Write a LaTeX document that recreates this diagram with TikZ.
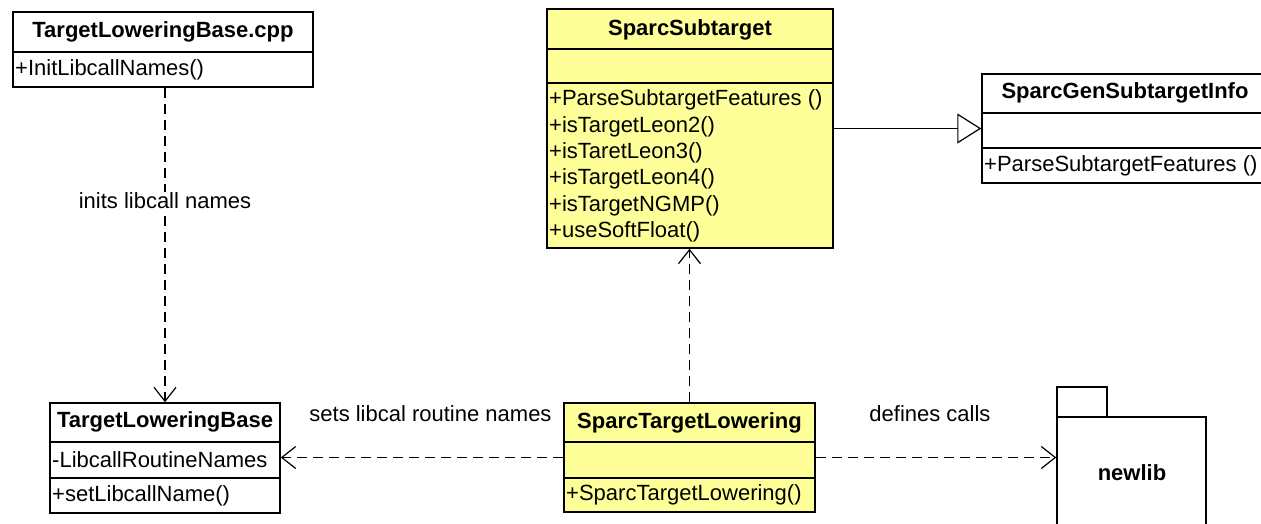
\documentclass[tikz,border=0pt]{standalone}
\usepackage{fontspec}
\setmainfont{Liberation Sans}
\usetikzlibrary{arrows.meta,positioning}
\definecolor{umlyellow}{RGB}{255,255,153}

\begin{document}
\begin{tikzpicture}[
  x=1pt,y=-1pt,
  every node/.style={font=\fontsize{22}{26.4}\selectfont},
  cbox/.style 2 args={draw,line width=1.5pt,minimum width=#1,minimum height=#2,
                      inner sep=0pt,fill=white},
  ybox/.style 2 args={cbox={#1}{#2},fill=umlyellow},
  ctitle/.style={font=\fontsize{22}{26.4}\selectfont\bfseries,inner sep=0pt},
  cmember/.style={anchor=west,inner sep=0pt},
  sepline/.style={line width=1.5pt},
  dep/.style={line width=1.2pt,dash pattern=on 10pt off 6pt,
              -{Straight Barb[length=14pt,width=22pt,line width=1.2pt]}},
  inh/.style={line width=1.2pt,
              -{Triangle[open,length=24pt,width=30pt,line width=1.2pt]}},
  elabel/.style={inner sep=1pt},
]
\useasboundingbox (0,0) rectangle (1261,524);

%% ── TargetLoweringBase.cpp ──────────────────────────────────────────────────
\node[cbox={300pt}{75pt}] (cpp) at (163,49.5) {};
\draw[sepline] (cpp.west |- 0,52) -- (cpp.east |- 0,52);
\node[ctitle] (cppT) at (163,32) {TargetLoweringBase.cpp};
\node[cmember] (cppM) at (15,70) {+InitLibcallNames()};

%% ── TargetLoweringBase ──────────────────────────────────────────────────────
\node[cbox={230pt}{110pt}] (tlb) at (165,458) {};
\draw[sepline] (tlb.west |- 0,442) -- (tlb.east |- 0,442);
\draw[sepline] (tlb.west |- 0,478) -- (tlb.east |- 0,478);
\node[ctitle] (tlbT) at (165,422) {TargetLoweringBase};
\node[cmember] (tlbA) at (52,460) {-LibcallRoutineNames};
\node[cmember] (tlbM) at (52,496) {+setLibcallName()};

%% ── SparcSubtarget ──────────────────────────────────────────────────────────
\node[ybox={286pt}{239pt}] (sub) at (690,128.5) {};
\draw[sepline] (sub.west |- 0,49) -- (sub.east |- 0,49);
\draw[sepline] (sub.west |- 0,83) -- (sub.east |- 0,83);
\node[ctitle] (subT) at (690,30) {SparcSubtarget};
\node[cmember] (subM1) at (549,100) {+ParseSubtargetFeatures ()};
\node[cmember] (subM2) at (549,126.4) {+isTargetLeon2()};
\node[cmember] (subM3) at (549,152.8) {+isTaretLeon3()};
\node[cmember] (subM4) at (549,179.2) {+isTargetLeon4()};
\node[cmember] (subM5) at (549,205.6) {+isTargetNGMP()};
\node[cmember] (subM6) at (549,232) {+useSoftFloat()};

%% ── SparcGenSubtargetInfo ───────────────────────────────────────────────────
\node[cbox={282pt}{109pt}] (gen) at (1123,128.5) {};
\draw[sepline] (gen.west |- 0,113) -- (gen.east |- 0,113);
\draw[sepline] (gen.west |- 0,148) -- (gen.east |- 0,148);
\node[ctitle] (genT) at (1125,93) {SparcGenSubtargetInfo};
\node[cmember] (genM) at (984,166) {+ParseSubtargetFeatures ()};

%% ── SparcTargetLowering ─────────────────────────────────────────────────────
\node[ybox={251pt}{109pt}] (sptl) at (689.5,457.5) {};
\draw[sepline] (sptl.west |- 0,442) -- (sptl.east |- 0,442);
\draw[sepline] (sptl.west |- 0,478) -- (sptl.east |- 0,478);
\node[ctitle] (sptlT) at (689.5,423) {SparcTargetLowering};
\node[cmember] (sptlM) at (566,495) {+SparcTargetLowering()};

%% ── newlib package ──────────────────────────────────────────────────────────
\node[cbox={149pt}{125pt}] (newlib) at (1131.5,479.5) {};
\node[cbox={50pt}{30pt}] (newtab) at (1082,402) {};
\node[ctitle] (newlibT) at (1132,473) {newlib};

%% ── Relations ───────────────────────────────────────────────────────────────
\draw[dep] (cpp.south -| tlb.north) --
  node[elabel,pos=0.36,fill=white] (initlbl) {inits libcall names} (tlb.north);
\draw[dep] (sptl.north) -- (sptl.north |- sub.south);
\draw[dep] (sptl.west) --
  node[elabel,pos=0.47,yshift=44pt] (setlbl) {sets libcal routine names} (sptl.west -| tlb.east);
\draw[dep] (sptl.east) --
  node[elabel,pos=0.475,yshift=44pt] (deflbl) {defines calls} (sptl.east -| newlib.west);
\draw[inh] (sub.east) -- (gen.west);

\end{tikzpicture}
\end{document}
